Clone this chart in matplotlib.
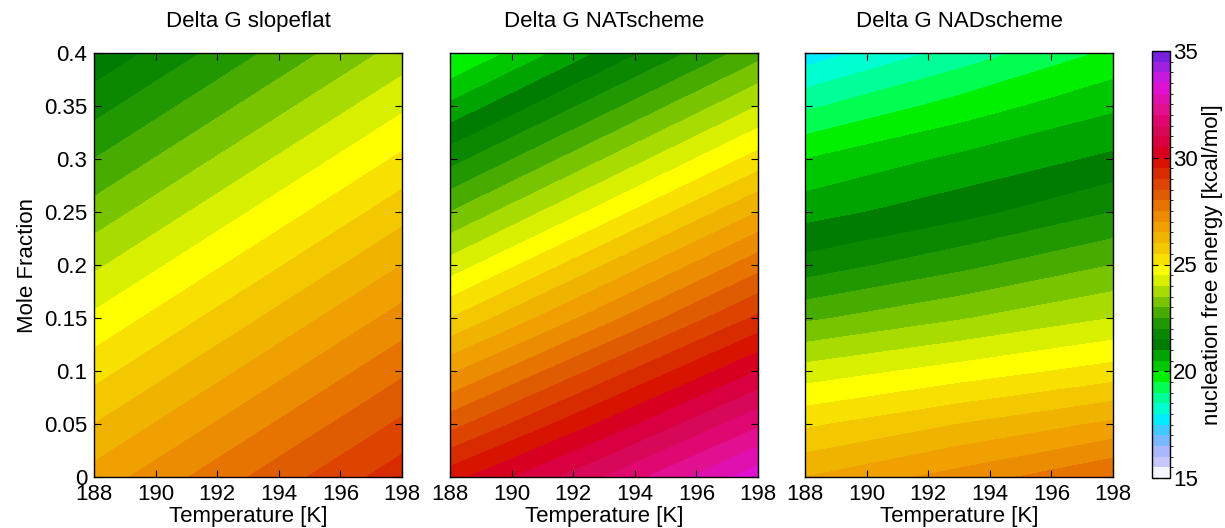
import numpy as np
import matplotlib
matplotlib.use("Agg")
import matplotlib.pyplot as plt
from matplotlib.colors import ListedColormap, BoundaryNorm

plt.rcParams['font.family'] = ['Liberation Sans', 'DejaVu Sans']

# ---- data ----
temperature = [188, 193, 198]
mole_fraction = [0.0, 0.05, 0.10, 0.15, 0.20, 0.25, 0.30, 0.35, 0.40]

# rows: mole fraction (0 -> 0.4), columns: temperature (188, 193, 198)
dg_slopeflat = [
    [26.7, 28.0, 29.3],
    [26.0, 27.3, 28.6],
    [25.3, 26.6, 27.9],
    [24.6, 25.9, 27.2],
    [23.9, 25.2, 26.5],
    [23.2, 24.5, 25.8],
    [22.5, 23.8, 25.1],
    [21.8, 23.1, 24.4],
    [21.1, 22.4, 23.7],
]
dg_natscheme = [
    [29.8, 31.5, 33.3],
    [28.3, 30.1, 31.9],
    [26.9, 28.7, 30.5],
    [25.5, 27.3, 29.1],
    [24.2, 26.0, 27.8],
    [23.0, 24.7, 26.5],
    [21.8, 23.5, 25.2],
    [20.6, 22.3, 24.0],
    [19.4, 21.1, 22.8],
]
dg_nadscheme = [
    [26.5, 27.2, 28.0],
    [25.4, 26.0, 26.6],
    [24.2, 24.7, 25.2],
    [22.9, 23.45, 24.0],
    [21.7, 22.35, 23.0],
    [20.8, 21.3, 22.0],
    [20.0, 20.6, 21.1],
    [18.9, 19.7, 20.4],
    [17.7, 18.7, 19.6],
]
titles = ["Delta G slopeflat", "Delta G NATscheme", "Delta G NADscheme"]
x_ticks = [188, 190, 192, 194, 196, 198]
y_ticks = [0, 0.05, 0.1, 0.15, 0.2, 0.25, 0.3, 0.35, 0.4]
y_ticklabels = ["0", "0.05", "0.1", "0.15", "0.2", "0.25", "0.3", "0.35", "0.4"]
cbar_ticks = [15, 20, 25, 30, 35]

# ---- colour bands (one per 0.5 kcal/mol, 15 -> 35) ----
band_colors = [
    "#f4f6ff", "#c4c8ff", "#a8b8ff", "#78b8ff", "#40c8ff",
    "#00ecff", "#00ffd0", "#00ff98", "#00ff50", "#00f000",
    "#00c800", "#00a400", "#007c00", "#0c8800", "#229800",
    "#48ac00", "#78c400", "#a8dc00", "#d8f000", "#ffff00",
    "#f8e000", "#f4c800", "#f0b400", "#f0a000", "#ec8c00",
    "#e87400", "#e05c00", "#dc4400", "#d82c00", "#d81400",
    "#d80020", "#d80040", "#d80858", "#e00870", "#e01090",
    "#e010b0", "#e010d0", "#c818e0", "#a020e0", "#7820e0",
]
levels = np.arange(15, 35.001, 0.5)
cmap = ListedColormap(band_colors)
norm = BoundaryNorm(levels, cmap.N)

FS = 16
fig = plt.figure(figsize=(12.25, 5.28), dpi=100)
W, H = 1225, 528
lefts = [94, 450, 805]
ax_w = 308
top_px, bot_px = 53, 477

fields = [dg_slopeflat, dg_natscheme, dg_nadscheme]
TT, XX = np.meshgrid(temperature, mole_fraction)
cs = None
for i, (lp, field, title) in enumerate(zip(lefts, fields, titles)):
    ax = fig.add_axes([lp / W, 1 - bot_px / H, ax_w / W, (bot_px - top_px) / H])
    cs = ax.contourf(TT, XX, np.array(field), levels=levels, cmap=cmap, norm=norm)
    ax.set_xlim(188, 198)
    ax.set_ylim(0, 0.4)
    ax.set_xticks(x_ticks)
    ax.set_yticks(y_ticks)
    ax.tick_params(direction='in', top=True, right=True, length=5, width=0.8,
                   labelsize=FS, pad=5)
    ax.tick_params(axis='x', pad=5)
    if i == 0:
        ax.set_yticklabels(y_ticklabels)
        ax.set_ylabel("Mole Fraction", fontsize=FS, labelpad=4)
    else:
        ax.set_yticklabels([])
    ax.set_xlabel("Temperature [K]", fontsize=FS, labelpad=1)
    ax.set_title(title, fontsize=FS, pad=19)
    for s in ax.spines.values():
        s.set_linewidth(1.0)
        s.set_color('black')

cax = fig.add_axes([1152 / W, 1 - 478 / H, 18 / W, (478 - 51) / H])
cb = fig.colorbar(cs, cax=cax, ticks=cbar_ticks)
cb.ax.tick_params(direction='in', length=4, width=0.8, labelsize=FS, pad=2,
                  left=True, right=True)
cb.set_label("nucleation free energy [kcal/mol]", fontsize=FS, labelpad=3)
cb.outline.set_linewidth(1.0)

fig.savefig("out.png", dpi=100)
